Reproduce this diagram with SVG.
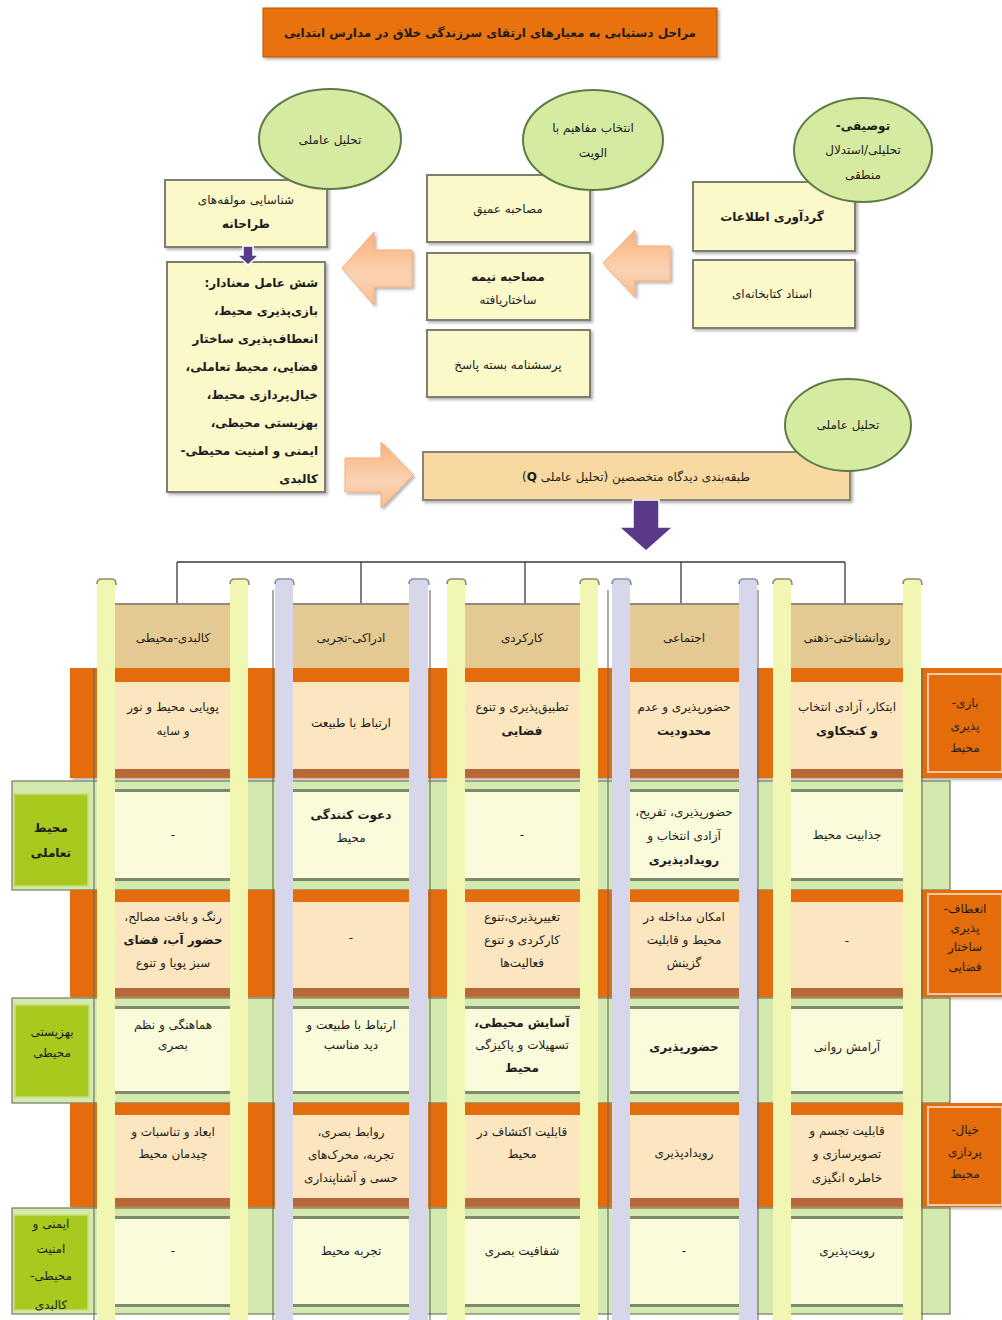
<svg xmlns="http://www.w3.org/2000/svg" width="1002" height="1320" viewBox="0 0 1002 1320">
<defs>
<style>
text{font-family:"DejaVu Sans","Noto Sans",sans-serif;direction:rtl;fill:#1c1c1c}
.c{font-size:12px;text-anchor:middle}
.b{font-weight:bold}
.box{fill:#FBF9C9;stroke:#7E7E70;stroke-width:2}
.circ{fill:#D6EBA2;stroke:#5E7A45;stroke-width:2}
.tan{fill:#FCE6C0}
.brn{fill:#B7683A}
.gln{fill:#7C8A6E}
.gbg{fill:#FAFBDA}
.ob{fill:#E46C0A}
.gb{fill:#D4E9AE;stroke:#6F7A60;stroke-width:1.2}
.hdr{fill:#E5C993}
.ys{fill:#F1F6B3}
.ps{fill:#D7D7EB}
.cap{fill:none;stroke:#8C8C62;stroke-width:1.6}
.pcap{fill:none;stroke:#8A8AA0;stroke-width:1.6}
.dl{stroke:#66695A;stroke-width:1.1}
.olab{fill:#E46C0A;stroke:#F8C9A4;stroke-width:2}
.glab{fill:#A9C91F;stroke:#C9DD7A;stroke-width:1.5}
.oarr{fill:url(#og);stroke:#F4AE78;stroke-width:1}
.parr{fill:#5A3A88;stroke:#FFFFFF;stroke-width:1.5}
.ln{fill:none;stroke:#3a3a3a;stroke-width:1.3}
</style>
<filter id="sh" x="-10%" y="-10%" width="125%" height="130%">
<feDropShadow dx="2" dy="2" stdDeviation="1.5" flood-color="#000" flood-opacity="0.3"/>
</filter>
<linearGradient id="og" x1="0" y1="0" x2="0" y2="1">
<stop offset="0" stop-color="#F8B27C"/>
<stop offset="0.6" stop-color="#FBD3B3"/>
<stop offset="1" stop-color="#F7BE92"/>
</linearGradient>
</defs>
<rect width="1002" height="1320" fill="#FFFFFF"/>

<g id="title">
<rect x="263" y="8" width="454" height="49" fill="#E8720C" stroke="#B85508" stroke-width="1" filter="url(#sh)"/>
<text x="490" y="37" style="font-size:12px;text-anchor:middle" class="b">مراحل دستیابی به معیارهای ارتقای سرزندگی خلاق در مدارس ابتدایی</text>
</g>

<g id="box-components">
<rect class="box" x="165" y="180" width="162" height="67" filter="url(#sh)"/>
<text class="c" x="246" y="204">شناسایی مولفه‌های</text>
<text class="c b" x="246" y="228">طراحانه</text>
</g>
<g id="box-six-factors">
<rect class="box" x="167" y="262" width="158" height="230" filter="url(#sh)"/>
<text class="b" style="font-size:12px;text-anchor:start" x="318" y="287">شش عامل معنادار:</text>
<text class="b" style="font-size:12px;text-anchor:start" x="318" y="315">بازی‌پذیری محیط،</text>
<text class="b" style="font-size:12px;text-anchor:start" x="318" y="343">انعطاف‌پذیری ساختار</text>
<text class="b" style="font-size:12px;text-anchor:start" x="318" y="371">فضایی، محیط تعاملی،</text>
<text class="b" style="font-size:12px;text-anchor:start" x="318" y="399">خیال‌پردازی محیط،</text>
<text class="b" style="font-size:12px;text-anchor:start" x="318" y="427">بهزیستی محیطی،</text>
<text class="b" style="font-size:12px;text-anchor:start" x="318" y="455">ایمنی و امنیت محیطی-</text>
<text class="b" style="font-size:12px;text-anchor:start" x="318" y="483">کالبدی</text>
</g>
<g id="box-deep-interview">
<rect class="box" x="427" y="175" width="163" height="67" filter="url(#sh)"/>
<text class="c" x="508" y="213">مصاحبه عمیق</text>
</g>
<g id="box-semi-interview">
<rect class="box" x="427" y="253" width="163" height="67" filter="url(#sh)"/>
<text class="c b" x="508" y="281">مصاحبه نیمه</text>
<text class="c" x="508" y="304">ساختاریافته</text>
</g>
<g id="box-questionnaire">
<rect class="box" x="427" y="330" width="163" height="67" filter="url(#sh)"/>
<text class="c" x="508" y="369">پرسشنامه بسته پاسخ</text>
</g>
<g id="box-data">
<rect class="box" x="693" y="182" width="162" height="69" filter="url(#sh)"/>
<text class="c b" x="772" y="221">گردآوری اطلاعات</text>
</g>
<g id="box-library">
<rect class="box" x="693" y="260" width="162" height="68" filter="url(#sh)"/>
<text class="c" x="772" y="298">اسناد کتابخانه‌ای</text>
</g>
<g id="box-q">
<rect x="423" y="452" width="427" height="48" fill="#F8D9A2" stroke="#8A8470" stroke-width="2" filter="url(#sh)"/>
<text class="c" x="636" y="481">طبقه‌بندی دیدگاه متخصصین (تحلیل عاملی <tspan class="b">Q</tspan>)</text>
</g>

<g id="circle-factor1">
<ellipse class="circ" cx="330" cy="139" rx="71" ry="50"/>
<text class="c" x="330" y="144">تحلیل عاملی</text>
</g>
<g id="circle-priority">
<ellipse class="circ" cx="593" cy="140" rx="70" ry="50"/>
<text class="c" x="593" y="132">انتخاب مفاهیم با</text>
<text class="c" x="593" y="157">الویت</text>
</g>
<g id="circle-method">
<ellipse class="circ" cx="863" cy="150" rx="69" ry="52"/>
<text class="c b" x="863" y="130">توصیفی-</text>
<text class="c" x="863" y="154">تحلیلی/استدلال</text>
<text class="c" x="863" y="179">منطقی</text>
</g>
<g id="circle-factor2">
<ellipse class="circ" cx="848" cy="425" rx="63" ry="46"/>
<text class="c" x="848" y="429">تحلیل عاملی</text>
</g>

<g id="connectors">
<polygon class="oarr" points="342,268 374,232 374,250 412,250 412,287 374,287 374,305" filter="url(#sh)"/>
<polygon class="oarr" points="603,263 635,230 635,246 670,246 670,281 635,281 635,297" filter="url(#sh)"/>
<polygon class="oarr" points="413,475 381,442 381,458 345,458 345,492 381,492 381,508" filter="url(#sh)"/>
<polygon class="parr" points="243,246 253,246 253,255 259,255 248,265 237,255 243,255"/>
<polygon class="parr" points="633,500 659,500 659,527 673,527 646,551 619,527 633,527"/>
<path class="ln" d="M177,562 H845 M177,562 V604 M361,562 V604 M525,562 V604 M681,562 V604 M845,562 V604"/>
</g>

<g id="row-bands">
<rect class="ob" x="70" y="668" width="932" height="110" filter="url(#sh)"/>
<rect class="gb" x="12" y="781" width="938" height="109"/>
<rect class="ob" x="70" y="890" width="932" height="107" filter="url(#sh)"/>
<rect class="gb" x="12" y="998" width="938" height="105"/>
<rect class="ob" x="70" y="1103" width="932" height="104" filter="url(#sh)"/>
<rect class="gb" x="12" y="1208" width="938" height="106"/>
</g>

<g id="divider-lines">
<path class="dl" d="M94,668 V1320 M273,590 V1320 M430,590 V1320 M608,590 V1320 M758,590 V1320 M922,668 V1320"/>
</g>

<g id="headers">
<g id="hdr-physical"><rect class="hdr" x="114" y="604" width="117" height="64"/><path d="M114,604 H231" stroke="#8F8C78" stroke-width="2"/><text class="c" x="173" y="642">کالبدی-محیطی</text></g>
<g id="hdr-perceptual"><rect class="hdr" x="292" y="604" width="117" height="64"/><path d="M292,604 H409" stroke="#8F8C78" stroke-width="2"/><text class="c" x="351" y="642">ادراکی-تجربی</text></g>
<g id="hdr-functional"><rect class="hdr" x="464" y="604" width="117" height="64"/><path d="M464,604 H581" stroke="#8F8C78" stroke-width="2"/><text class="c" x="522" y="642">کارکردی</text></g>
<g id="hdr-social"><rect class="hdr" x="629" y="604" width="111" height="64"/><path d="M629,604 H740" stroke="#8F8C78" stroke-width="2"/><text class="c" x="684" y="642">اجتماعی</text></g>
<g id="hdr-psych"><rect class="hdr" x="790" y="604" width="114" height="64"/><path d="M790,604 H904" stroke="#8F8C78" stroke-width="2"/><text class="c" x="847" y="642">روانشناختی-ذهنی</text></g>
</g>

<g id="cells-row1">
<rect class="tan" x="115" y="682" width="116" height="87"/><rect class="brn" x="115" y="769" width="116" height="8"/>
<rect class="tan" x="292" y="682" width="117" height="87"/><rect class="brn" x="292" y="769" width="117" height="8"/>
<rect class="tan" x="464" y="682" width="117" height="87"/><rect class="brn" x="464" y="769" width="117" height="8"/>
<rect class="tan" x="629" y="682" width="111" height="87"/><rect class="brn" x="629" y="769" width="111" height="8"/>
<rect class="tan" x="790" y="682" width="114" height="87"/><rect class="brn" x="790" y="769" width="114" height="8"/>
</g>
<g id="cells-row2">
<rect class="gln" x="115" y="789" width="116" height="3"/><rect class="gbg" x="115" y="792" width="116" height="86"/><rect class="gln" x="115" y="878" width="116" height="3"/>
<rect class="gln" x="292" y="789" width="117" height="3"/><rect class="gbg" x="292" y="792" width="117" height="86"/><rect class="gln" x="292" y="878" width="117" height="3"/>
<rect class="gln" x="464" y="789" width="117" height="3"/><rect class="gbg" x="464" y="792" width="117" height="86"/><rect class="gln" x="464" y="878" width="117" height="3"/>
<rect class="gln" x="629" y="789" width="111" height="3"/><rect class="gbg" x="629" y="792" width="111" height="86"/><rect class="gln" x="629" y="878" width="111" height="3"/>
<rect class="gln" x="790" y="789" width="114" height="3"/><rect class="gbg" x="790" y="792" width="114" height="86"/><rect class="gln" x="790" y="878" width="114" height="3"/>
</g>
<g id="cells-row3">
<rect class="tan" x="115" y="902" width="116" height="86"/><rect class="brn" x="115" y="988" width="116" height="8"/>
<rect class="tan" x="292" y="902" width="117" height="86"/><rect class="brn" x="292" y="988" width="117" height="8"/>
<rect class="tan" x="464" y="902" width="117" height="86"/><rect class="brn" x="464" y="988" width="117" height="8"/>
<rect class="tan" x="629" y="902" width="111" height="86"/><rect class="brn" x="629" y="988" width="111" height="8"/>
<rect class="tan" x="790" y="902" width="114" height="86"/><rect class="brn" x="790" y="988" width="114" height="8"/>
</g>
<g id="cells-row4">
<rect class="gln" x="115" y="1006" width="116" height="3"/><rect class="gbg" x="115" y="1009" width="116" height="82"/><rect class="gln" x="115" y="1091" width="116" height="3"/>
<rect class="gln" x="292" y="1006" width="117" height="3"/><rect class="gbg" x="292" y="1009" width="117" height="82"/><rect class="gln" x="292" y="1091" width="117" height="3"/>
<rect class="gln" x="464" y="1006" width="117" height="3"/><rect class="gbg" x="464" y="1009" width="117" height="82"/><rect class="gln" x="464" y="1091" width="117" height="3"/>
<rect class="gln" x="629" y="1006" width="111" height="3"/><rect class="gbg" x="629" y="1009" width="111" height="82"/><rect class="gln" x="629" y="1091" width="111" height="3"/>
<rect class="gln" x="790" y="1006" width="114" height="3"/><rect class="gbg" x="790" y="1009" width="114" height="82"/><rect class="gln" x="790" y="1091" width="114" height="3"/>
</g>
<g id="cells-row5">
<rect class="tan" x="115" y="1115" width="116" height="83"/><rect class="brn" x="115" y="1198" width="116" height="8"/>
<rect class="tan" x="292" y="1115" width="117" height="83"/><rect class="brn" x="292" y="1198" width="117" height="8"/>
<rect class="tan" x="464" y="1115" width="117" height="83"/><rect class="brn" x="464" y="1198" width="117" height="8"/>
<rect class="tan" x="629" y="1115" width="111" height="83"/><rect class="brn" x="629" y="1198" width="111" height="8"/>
<rect class="tan" x="790" y="1115" width="114" height="83"/><rect class="brn" x="790" y="1198" width="114" height="8"/>
</g>
<g id="cells-row6">
<rect class="gln" x="115" y="1216" width="116" height="3"/><rect class="gbg" x="115" y="1219" width="116" height="85"/><rect class="gln" x="115" y="1304" width="116" height="3"/>
<rect class="gln" x="292" y="1216" width="117" height="3"/><rect class="gbg" x="292" y="1219" width="117" height="85"/><rect class="gln" x="292" y="1304" width="117" height="3"/>
<rect class="gln" x="464" y="1216" width="117" height="3"/><rect class="gbg" x="464" y="1219" width="117" height="85"/><rect class="gln" x="464" y="1304" width="117" height="3"/>
<rect class="gln" x="629" y="1216" width="111" height="3"/><rect class="gbg" x="629" y="1219" width="111" height="85"/><rect class="gln" x="629" y="1304" width="111" height="3"/>
<rect class="gln" x="790" y="1216" width="114" height="3"/><rect class="gbg" x="790" y="1219" width="114" height="85"/><rect class="gln" x="790" y="1304" width="114" height="3"/>
</g>

<g id="strips">
<rect class="ys" x="97" y="580" width="18" height="740"/><path class="cap" d="M97,584 Q97,579 102,579 H112 Q116,579 116,585"/>
<rect class="ys" x="230" y="580" width="18" height="740"/><path class="cap" d="M230,584 Q230,579 235,579 H245 Q249,579 249,585"/>
<rect class="ps" x="275" y="580" width="18" height="740"/><path class="pcap" d="M275,584 Q275,579 280,579 H290 Q294,579 294,585"/>
<rect class="ps" x="409" y="580" width="19" height="740"/><path class="pcap" d="M409,584 Q409,579 414,579 H425 Q429,579 429,585"/>
<rect class="ys" x="447" y="580" width="18" height="740"/><path class="cap" d="M447,584 Q447,579 452,579 H462 Q466,579 466,585"/>
<rect class="ys" x="580" y="580" width="18" height="740"/><path class="cap" d="M580,584 Q580,579 585,579 H595 Q599,579 599,585"/>
<rect class="ps" x="612" y="580" width="18" height="740"/><path class="pcap" d="M612,584 Q612,579 617,579 H627 Q631,579 631,585"/>
<rect class="ps" x="739" y="580" width="18" height="740"/><path class="pcap" d="M739,584 Q739,579 744,579 H754 Q758,579 758,585"/>
<rect class="ys" x="773" y="580" width="18" height="740"/><path class="cap" d="M773,584 Q773,579 778,579 H788 Q792,579 792,585"/>
<rect class="ys" x="903" y="580" width="18" height="740"/><path class="cap" d="M903,584 Q903,579 908,579 H918 Q922,579 922,585"/>
</g>

<g id="label-play">
<rect class="olab" x="928" y="674" width="74" height="98"/>
<text class="c" x="965" y="707">بازی-</text>
<text class="c" x="965" y="730">پذیری</text>
<text class="c" x="965" y="752">محیط</text>
</g>
<g id="label-flex">
<rect class="olab" x="928" y="894" width="74" height="100"/>
<text class="c" x="965" y="913">انعطاف-</text>
<text class="c" x="965" y="932">پذیری</text>
<text class="c" x="965" y="951">ساختار</text>
<text class="c" x="965" y="971">فضایی</text>
</g>
<g id="label-imag">
<rect class="olab" x="928" y="1107" width="74" height="98"/>
<text class="c" x="965" y="1134">خیال-</text>
<text class="c" x="965" y="1156">پردازی</text>
<text class="c" x="965" y="1178">محیط</text>
</g>
<g id="label-interactive">
<rect class="glab" x="14" y="794" width="74" height="92"/>
<text class="c b" x="51" y="832">محیط</text>
<text class="c b" x="51" y="857">تعاملی</text>
</g>
<g id="label-wellbeing">
<rect class="glab" x="15" y="1005" width="74" height="92"/>
<text class="c" x="52" y="1036">بهزیستی</text>
<text class="c" x="52" y="1057">محیطی</text>
</g>
<g id="label-safety">
<rect class="glab" x="14" y="1215" width="74" height="95"/>
<text class="c" x="51" y="1228">ایمنی و</text>
<text class="c" x="51" y="1253">امنیت</text>
<text class="c" x="51" y="1280">محیطی-</text>
<text class="c" x="51" y="1309">کالبدی</text>
</g>

<g id="text-row1">
<text class="c" x="847" y="711">ابتکار، آزادی انتخاب</text>
<text class="c b" x="847" y="735">و کنجکاوی</text>
<text class="c" x="684" y="711">حضورپذیری و عدم</text>
<text class="c b" x="684" y="735">محدودیت</text>
<text class="c" x="522" y="711">تطبیق‌پذیری و تنوع</text>
<text class="c b" x="522" y="735">فضایی</text>
<text class="c" x="351" y="727">ارتباط با طبیعت</text>
<text class="c" x="173" y="711">پویایی محیط و نور</text>
<text class="c" x="173" y="735">و سایه</text>
</g>
<g id="text-row2">
<text class="c" x="847" y="839">جذابیت محیط</text>
<text class="c" x="684" y="816">حضورپذیری، تفریح،</text>
<text class="c" x="684" y="840">آزادی انتخاب و</text>
<text class="c b" x="684" y="864">رویدادپذیری</text>
<text class="c" x="522" y="839">-</text>
<text class="c b" x="351" y="819">دعوت کنندگی</text>
<text class="c" x="351" y="842">محیط</text>
<text class="c" x="173" y="839">-</text>
</g>
<g id="text-row3">
<text class="c" x="847" y="945">-</text>
<text class="c" x="684" y="921">امکان مداخله در</text>
<text class="c" x="684" y="944">محیط و قابلیت</text>
<text class="c" x="684" y="967">گزینش</text>
<text class="c" x="522" y="921">تغییرپذیری،تنوع</text>
<text class="c" x="522" y="944">کارکردی و تنوع</text>
<text class="c" x="522" y="967">فعالیت‌ها</text>
<text class="c" x="351" y="942">-</text>
<text class="c" x="173" y="921">رنگ و بافت مصالح،</text>
<text class="c b" x="173" y="944">حضور آب، فضای</text>
<text class="c" x="173" y="967">سبز پویا و تنوع</text>
</g>
<g id="text-row4">
<text class="c" x="847" y="1051">آرامش روانی</text>
<text class="c b" x="684" y="1051">حضورپذیری</text>
<text class="c b" x="522" y="1027">آسایش محیطی،</text>
<text class="c" x="522" y="1049">تسهیلات و پاکیزگی</text>
<text class="c b" x="522" y="1072">محیط</text>
<text class="c" x="351" y="1029">ارتباط با طبیعت و</text>
<text class="c" x="351" y="1049">دید مناسب</text>
<text class="c" x="173" y="1029">هماهنگی و نظم</text>
<text class="c" x="173" y="1049">بصری</text>
</g>
<g id="text-row5">
<text class="c" x="847" y="1135">قابلیت تجسم و</text>
<text class="c" x="847" y="1158">تصویرسازی و</text>
<text class="c" x="847" y="1182">خاطره انگیزی</text>
<text class="c" x="684" y="1157">رویدادپذیری</text>
<text class="c" x="522" y="1136">قابلیت اکتشاف در</text>
<text class="c" x="522" y="1158">محیط</text>
<text class="c" x="351" y="1136">روابط بصری،</text>
<text class="c" x="351" y="1159">تجربه، محرک‌های</text>
<text class="c" x="351" y="1182">حسی و آشناپنداری</text>
<text class="c" x="173" y="1136">ابعاد و تناسبات و</text>
<text class="c" x="173" y="1158">چیدمان محیط</text>
</g>
<g id="text-row6">
<text class="c" x="847" y="1255">رویت‌پذیری</text>
<text class="c" x="684" y="1255">-</text>
<text class="c" x="522" y="1255">شفافیت بصری</text>
<text class="c" x="351" y="1255">تجربه محیط</text>
<text class="c" x="173" y="1255">-</text>
</g>
</svg>
